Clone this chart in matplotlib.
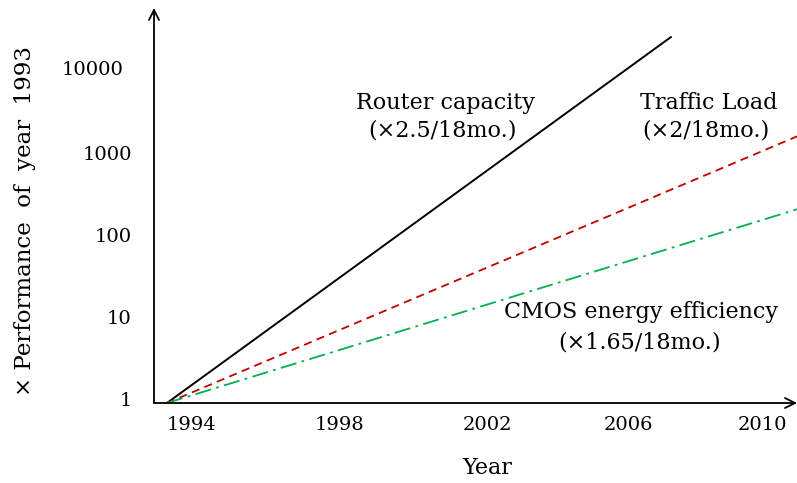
import matplotlib
matplotlib.use('Agg')
import matplotlib.pyplot as plt
from matplotlib.ticker import FixedLocator, NullLocator
import matplotlib.transforms as mtransforms

# trend lines as (start, end) pairs on a log scale
router_years = [1993.35, 2006.97]
router_perf = [1, 29000]
traffic_years = [1993.35, 2010.4]
traffic_perf = [1, 1800]
cmos_years = [1993.35, 2010.4]
cmos_perf = [1, 232]

year_ticks = [1994, 1998, 2002, 2006, 2010]
perf_ticks = [1, 10, 100, 1000, 10000]
perf_labels = ['1', '10', '100', '1000', '10000']

plt.rcParams['font.family'] = ['DejaVu Serif']

fig = plt.figure(figsize=(7.97, 4.83), dpi=100)
ax = fig.add_axes([154 / 797, 1 - 403 / 483, 1 - 154 / 797, 395 / 483])

ax.plot(router_years, router_perf, color='black', linewidth=1.4)
ax.plot(traffic_years, traffic_perf, color='#C00000', linewidth=1.3,
        linestyle=(0, (4.5, 3)))
ax.plot(cmos_years, cmos_perf, color='#00B050', linewidth=1.3,
        linestyle=(0, (9, 3, 1.5, 3)))

ax.set_yscale('log')
ax.set_xlim(1993, 1993 + 643 / 37)
ax.set_ylim(1, 10 ** (395 / 82))

ax.xaxis.set_major_locator(FixedLocator(year_ticks))
ax.set_xticklabels([str(y) for y in year_ticks])
ax.yaxis.set_major_locator(FixedLocator(perf_ticks))
ax.yaxis.set_minor_locator(NullLocator())
ax.set_yticklabels(perf_labels)
ax.tick_params(axis='x', length=0, pad=9, labelsize=14)
ax.tick_params(axis='y', length=0, pad=16, labelsize=14)


def nudge(label, dx, dy):
    label.set_transform(label.get_transform() +
                        mtransforms.ScaledTranslation(dx / 100, dy / 100, fig.dpi_scale_trans))


# hand-placed label offsets (px)
xl = ax.get_xticklabels()
nudge(xl[3], -7, 0)
nudge(xl[4], -21, 0)
for lab in ax.get_yticklabels():
    nudge(lab, 0, 4)
nudge(ax.get_yticklabels()[-1], -8, 3)

for s in ax.spines.values():
    s.set_visible(False)

arrow = dict(arrowstyle='->', lw=1.3, color='black', mutation_scale=18,
             shrinkA=0, shrinkB=0)
ax.annotate('', xy=(0, 1), xytext=(0, 0), xycoords='axes fraction',
            arrowprops=arrow, annotation_clip=False)
ax.annotate('', xy=(1, 0), xytext=(0, 0), xycoords='axes fraction',
            arrowprops=arrow, annotation_clip=False)

fs = 16
fig.text(446 / 797, 1 - 103 / 483, 'Router capacity', ha='center', va='center', fontsize=fs)
fig.text(443 / 797, 1 - 131 / 483, '(×2.5/18mo.)', ha='center', va='center', fontsize=fs)
fig.text(709 / 797, 1 - 103 / 483, 'Traffic Load', ha='center', va='center', fontsize=fs)
fig.text(706 / 797, 1 - 131 / 483, '(×2/18mo.)', ha='center', va='center', fontsize=fs)
fig.text(641 / 797, 1 - 312 / 483, 'CMOS energy efficiency', ha='center', va='center', fontsize=fs)
fig.text(640 / 797, 1 - 343 / 483, '(×1.65/18mo.)', ha='center', va='center', fontsize=fs)

fig.text(487 / 797, 1 - 468 / 483, 'Year', ha='center', va='center', fontsize=16)
fig.text(25 / 797, 1 - 221 / 483, '× Performance  of  year  1993', ha='center',
         va='center', rotation=90, fontsize=16.5)

fig.savefig('out.png', dpi=100)
